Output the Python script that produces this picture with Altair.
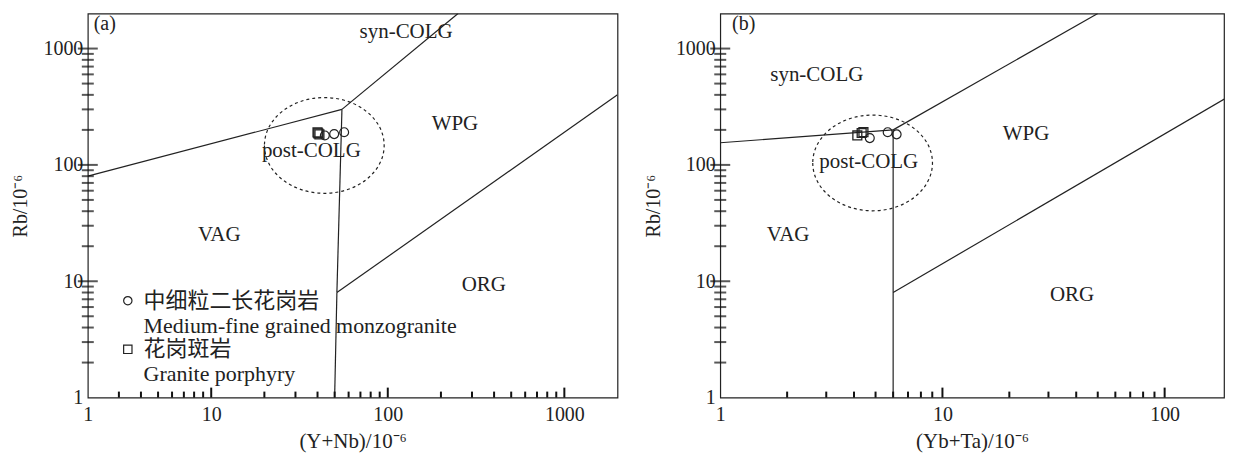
import altair as alt
import pandas as pd

# ---------------- data ----------------
# Panel (a): Rb vs (Y+Nb) boundaries (segment id, x, y)
A_SEG = ["s1", "s1", "s2", "s2", "s3", "s3", "s4", "s4", "s5", "s5"]
A_BX = [2, 55, 55, 250, 55, 51.5, 51.5, 50, 51.5, 2000]
A_BY = [80, 300, 300, 2000, 300, 8, 8, 1, 8, 400]

# Panel (b): Rb vs (Yb+Ta) boundaries
B_SEG = ["s1", "s1", "s2", "s2", "s3", "s3", "s4", "s4"]
B_BX = [1, 6, 6, 50, 6, 6, 6, 200]
B_BY = [155, 200, 200, 2000, 200, 1, 8, 400]

# Samples
A_CIRC_X = [44, 49.7, 56.6]
A_CIRC_Y = [179, 184, 191]
A_SQ_X = [40.4, 41.0, 40.0]
A_SQ_Y = [187, 183, 190]
B_CIRC_X = [4.71, 5.67, 6.22]
B_CIRC_Y = [170, 191, 183]
B_SQ_X = [4.33, 4.14, 4.41]
B_SQ_Y = [188, 179, 191]

# Field labels
A_LAB = ["syn-COLG", "WPG", "post-COLG", "VAG", "ORG"]
A_LAB_X = [127, 240, 36.9, 11.1, 350]
A_LAB_Y = [1396, 223, 131, 24.9, 9.3]
B_LAB = ["syn-COLG", "WPG", "post-COLG", "VAG", "ORG"]
B_LAB_X = [2.72, 23.8, 4.66, 2.02, 38.3]
B_LAB_Y = [598, 183, 105, 24.9, 7.63]

# dashed ellipse centres
A_ELL = (43.7, 147)
B_ELL = (4.85, 104)

# legend
LEG_MARK_X = [3.37, 3.37]
LEG_MARK_Y = [6.8, 2.6]
LEG_SHAPE = ["circle", "square"]
LEG_TXT = ["中细粒二长花岗岩", "Medium-fine grained monzogranite", "花岗斑岩", "Granite porphyry"]
LEG_TXT_X = [4.14, 4.14, 4.14, 4.14]
LEG_TXT_Y = [6.8, 4.15, 2.6, 1.6]
LEG_FONT = ["Noto Sans CJK SC", "Liberation Serif", "Noto Sans CJK SC", "Liberation Serif"]
LEG_SIZE = [22, 22, 22, 22]

# ticks
Y_MAJOR = [10, 100, 1000]
Y_MINOR = [2, 3, 4, 5, 6, 7, 8, 9, 20, 30, 40, 50, 60, 70, 80, 90,
           200, 300, 400, 500, 600, 700, 800, 900]
XA_MAJOR = [10, 100, 1000]
XA_MINOR = [3, 4, 5, 6, 7, 8, 9, 20, 30, 40, 50, 60, 70, 80, 90,
            200, 300, 400, 500, 600, 700, 800, 900]
XB_MAJOR = [10, 100]
XB_MINOR = [2, 3, 4, 5, 6, 7, 8, 9, 20, 30, 40, 50, 60, 70, 80, 90]

SERIF = "Liberation Serif"
INK = "#222222"
TICK = "#111111"
H = 385
WA = 531
WB = 505
FS = 20
FS_LAB = 21


def panel(xdom, ydom, seg, bx, by, cx, cy, sx, sy, labs, lx, ly, ell, tag, tagx,
          xmaj, xmin, xvals, xtitle, W, legend=False, first_label=None):
    xs = alt.Scale(type="log", domain=xdom, nice=False)
    ys = alt.Scale(type="log", domain=ydom, nice=False)
    label_expr = "format(datum.value, 'd')"
    if first_label is not None:
        label_expr = f"datum.value == {xdom[0]} ? '{first_label}' : format(datum.value, 'd')"
    xaxis = alt.Axis(values=xvals, grid=False, ticks=False, domain=False, title=xtitle,
                     labelExpr=label_expr, labelFont=SERIF, labelFontSize=FS,
                     labelColor=INK, labelPadding=7, titleFont=SERIF,
                     titleFontSize=21, titleFontWeight="normal", titleColor=INK,
                     titlePadding=6, labelFlush=False)
    yaxis = alt.Axis(values=[1, 10, 100, 1000], grid=False, ticks=False, domain=False,
                     title="Rb/10⁻⁶", labelExpr="format(datum.value, 'd')",
                     labelFont=SERIF, labelFontSize=FS,
                     labelColor=INK, labelPadding=5, titleFont=SERIF,
                     titleFontSize=20, titleFontWeight="normal", titleColor=INK,
                     titlePadding=12, labelFlush=False)

    def X(f="x"):
        return alt.X(f"{f}:Q", scale=xs, axis=xaxis)

    def Y(f="y"):
        return alt.Y(f"{f}:Q", scale=ys, axis=yaxis)

    bdf = pd.DataFrame({"seg": seg, "x": bx, "y": by, "o": list(range(len(bx)))})
    lines = alt.Chart(bdf).mark_line(color=INK, strokeWidth=1.2, clip=True).encode(
        x=X(), y=Y(), detail="seg:N", order="o:Q")

    layers = [lines]

    # inward ticks
    def xt(vals, ln):
        return alt.Chart(pd.DataFrame({"x": vals})).mark_rule(
            color=TICK, strokeWidth=2).encode(
            x=X(), y=alt.value(H), y2=alt.value(H - ln))

    def yt(vals, ln):
        return alt.Chart(pd.DataFrame({"y": vals})).mark_tick(
            color=TICK, thickness=2, size=2 * ln, orient="horizontal").encode(
            y=Y(), x=alt.value(0))

    layers += [xt(xmaj, 10), xt(xmin, 6), yt(Y_MAJOR, 10), yt(Y_MINOR, 6)]

    # ellipse
    edf = pd.DataFrame({"x": [ell[0]], "y": [ell[1]]})
    layers.append(alt.Chart(edf).mark_point(
        shape="M -1 0 A 1 0.8 0 1 0 1 0 A 1 0.8 0 1 0 -1 0 Z",
        size=14400, filled=False, color=INK, strokeWidth=1.2, strokeDash=[3, 3],
        opacity=1).encode(x=X(), y=Y()))

    # samples
    sq = pd.DataFrame({"x": sx, "y": sy})
    ci = pd.DataFrame({"x": cx, "y": cy})
    layers.append(alt.Chart(sq).mark_point(shape="square", size=80, filled=False,
                                           color=INK, strokeWidth=1.3, opacity=1).encode(
        x=X(), y=Y()))
    layers.append(alt.Chart(ci).mark_point(shape="circle", size=80, filled=False,
                                           color=INK, strokeWidth=1.2, opacity=1).encode(
        x=X(), y=Y()))

    # labels
    ldf = pd.DataFrame({"t": labs, "x": lx, "y": ly})
    layers.append(alt.Chart(ldf).mark_text(font=SERIF, fontSize=FS_LAB, color=INK,
                                           align="center", baseline="middle").encode(
        x=X(), y=Y(), text="t:N"))
    tdf = pd.DataFrame({"t": [tag], "x": [tagx], "y": [1634]})
    layers.append(alt.Chart(tdf).mark_text(font=SERIF, fontSize=FS, color=INK,
                                           align="left", baseline="middle").encode(
        x=X(), y=Y(), text="t:N"))

    if legend:
        mdf = pd.DataFrame({"x": LEG_MARK_X, "y": LEG_MARK_Y, "s": LEG_SHAPE})
        layers.append(alt.Chart(mdf).mark_point(size=70, filled=False, color=INK,
                                                strokeWidth=1.2, opacity=1).encode(
            x=X(), y=Y(),
            shape=alt.Shape("s:N", scale=alt.Scale(domain=["circle", "square"],
                                                   range=["circle", "square"]),
                            legend=None)))
        for i in range(len(LEG_TXT)):
            d = pd.DataFrame({"t": [LEG_TXT[i]], "x": [LEG_TXT_X[i]], "y": [LEG_TXT_Y[i]]})
            layers.append(alt.Chart(d).mark_text(font=LEG_FONT[i], fontSize=LEG_SIZE[i],
                                                 color=INK, align="left",
                                                 baseline="middle").encode(
                x=X(), y=Y(), text="t:N"))

    return alt.layer(*layers).properties(width=W, height=H)


pa = panel([2, 2000], [1, 2000], A_SEG, A_BX, A_BY, A_CIRC_X, A_CIRC_Y, A_SQ_X, A_SQ_Y,
           A_LAB, A_LAB_X, A_LAB_Y, A_ELL, "(a)", 2.16, XA_MAJOR, XA_MINOR,
           [2, 10, 100, 1000], "(Y+Nb)/10⁻⁶", WA, legend=True, first_label="1")
pb = panel([1, 185], [1, 2000], B_SEG, B_BX, B_BY, B_CIRC_X, B_CIRC_Y, B_SQ_X, B_SQ_Y,
           B_LAB, B_LAB_X, B_LAB_Y, B_ELL, "(b)", 1.13, XB_MAJOR, XB_MINOR,
           [1, 10, 100], "(Yb+Ta)/10⁻⁶", WB)

chart = alt.hconcat(pa, pb, spacing=24).properties(
    padding={"left": 2, "top": 4, "right": 0, "bottom": 0}
).configure(background="white").configure_view(stroke=INK, strokeWidth=1.2)

chart.save("out.html", embed_options={"renderer": "svg", "actions": False})
